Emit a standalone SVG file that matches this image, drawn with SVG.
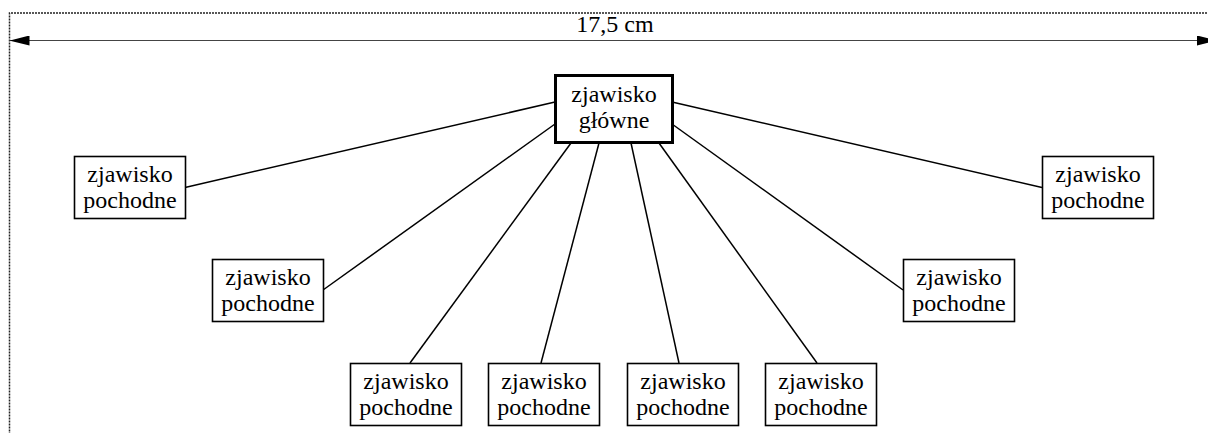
<svg xmlns="http://www.w3.org/2000/svg" width="1208" height="433" viewBox="0 0 1208 433" font-family="'Times New Roman', 'Liberation Serif', serif">
<style>
.t{font-family:'Times New Roman','Liberation Serif',serif;font-size:24px;text-anchor:middle;fill:#000}
.box{fill:#fff;stroke:#000;stroke-width:1.6}
.main{fill:#fff;stroke:#000;stroke-width:3}
.con line{stroke:#000;stroke-width:1.5}
</style>
<defs>
<marker id="ah" viewBox="0 0 20 10" refX="20" refY="5" markerWidth="20" markerHeight="10" markerUnits="userSpaceOnUse" orient="auto-start-reverse">
<path d="M0,0 L20,5 L0,10 z" fill="#000"/>
</marker>
</defs>
<rect width="1208" height="433" fill="#fff"/>
<g id="frame">
<path d="M1210,13 H9.5 V433" stroke="#222" stroke-width="1.5" stroke-dasharray="2 1" fill="none"/>
<line x1="9.5" y1="40.5" x2="1217" y2="40.5" stroke="#444" stroke-width="1.2" marker-start="url(#ah)" marker-end="url(#ah)"/>
<text class="t" x="615" y="32">17,5 cm</text>
</g>
<g id="connectors" class="con">
<line x1="555" y1="102" x2="185" y2="187.5"/>
<line x1="555" y1="124" x2="323" y2="290"/>
<line x1="571" y1="143" x2="410" y2="363"/>
<line x1="599" y1="143" x2="541" y2="363"/>
<line x1="631" y1="143" x2="679" y2="363"/>
<line x1="659" y1="143" x2="817" y2="363"/>
<line x1="672" y1="124" x2="903" y2="290"/>
<line x1="672" y1="102" x2="1042" y2="187.5"/>
</g>
<g id="main">
<rect class="main" x="555.5" y="75.5" width="117" height="67"/>
<text class="t" x="614" y="102">zjawisko</text>
<text class="t" x="614" y="128">g&#322;&#243;wne</text>
</g>
<g id="n1">
<rect class="box" x="74.5" y="156.5" width="111" height="62"/>
<text class="t" x="130" y="182">zjawisko</text>
<text class="t" x="130" y="208">pochodne</text>
</g>
<g id="n2">
<rect class="box" x="212.5" y="259.5" width="111" height="62"/>
<text class="t" x="268" y="285">zjawisko</text>
<text class="t" x="268" y="311">pochodne</text>
</g>
<g id="n3">
<rect class="box" x="350.5" y="363.5" width="111" height="62"/>
<text class="t" x="406" y="389">zjawisko</text>
<text class="t" x="406" y="415">pochodne</text>
</g>
<g id="n4">
<rect class="box" x="488.5" y="363.5" width="111" height="62"/>
<text class="t" x="544" y="389">zjawisko</text>
<text class="t" x="544" y="415">pochodne</text>
</g>
<g id="n5">
<rect class="box" x="627.5" y="363.5" width="111" height="62"/>
<text class="t" x="683" y="389">zjawisko</text>
<text class="t" x="683" y="415">pochodne</text>
</g>
<g id="n6">
<rect class="box" x="765.5" y="363.5" width="111" height="62"/>
<text class="t" x="821" y="389">zjawisko</text>
<text class="t" x="821" y="415">pochodne</text>
</g>
<g id="n7">
<rect class="box" x="903.5" y="259.5" width="111" height="62"/>
<text class="t" x="959" y="285">zjawisko</text>
<text class="t" x="959" y="311">pochodne</text>
</g>
<g id="n8">
<rect class="box" x="1042.5" y="156.5" width="111" height="62"/>
<text class="t" x="1098" y="182">zjawisko</text>
<text class="t" x="1098" y="208">pochodne</text>
</g>
</svg>
